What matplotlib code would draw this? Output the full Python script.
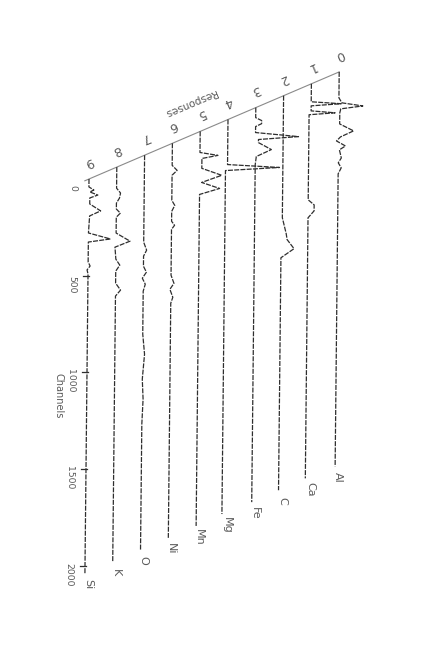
import matplotlib
matplotlib.use("Agg")
import matplotlib.pyplot as plt
import matplotlib.transforms as mtransforms
from matplotlib import font_manager

# ---------------- data (channels along each trace, response values) ----------------
elements = ["Al", "Ca", "C", "Fe", "Mg", "Mn", "Ni", "O", "K", "Si"]
index_labels = ["0", "1", "2", "3", "4", "5", "6", "7", "8", "9"]
channel_ticks = [0, 500, 1000, 1500, 2000]

al_ch = [0, 134, 160, 176, 191, 212, 269, 305, 336, 357, 383, 403, 445, 470, 496, 527, 2040]
al_r = [0, 0, 3, 24, 2, 1, 1, 15, 2, -2, 7, 1, 3, 0, 3, 0, 0]

ca_ch = [0, 93, 103, 114, 140, 150, 160, 600, 626, 657, 693, 2040]
ca_r = [0, 0, 30, 0, 0, 24, -2, -2, 4, 4, -2, -2]

c_ch = [0, 631, 672, 713, 744, 791, 838, 2040]
c_r = [0, 0, 2, 4, 5, 12, -1, -1]

fe_ch = [0, 52, 67, 83, 98, 129, 150, 165, 181, 217, 253, 295, 2040]
fe_r = [0, 0, 6, 6, 0, 0, 43, 3, 3, 16, 1, 0, 0]

mg_ch = [0, 233, 248, 264, 2040]
mg_r = [0, 0, 52, -2, -2]

mn_ch = [0, 109, 124, 140, 191, 227, 264, 295, 326, 2040]
mn_r = [0, 0, 18, 2, 2, 22, 2, 20, 0, 0]

ni_ch = [0, 114, 140, 165, 295, 321, 352, 403, 424, 445, 682, 724, 755, 796, 827, 2040]
ni_r = [0, 0, 5, 0, 0, 3, 0, 0, 3, 0, 0, 3, -1, 2, 0, 0]

o_ch = [0, 450, 491, 522, 574, 605, 636, 667, 703, 925, 1029, 1158, 1261, 1391, 2040]
o_r = [0, 0, 3, 0, 0, 3, -1, 2, 0, 0, 2, 0, 1, 0, 0]

k_ch = [0, 109, 134, 160, 186, 217, 238, 259, 341, 383, 414, 476, 507, 538, 600, 636, 667, 2040]
k_r = [0, 0, 4, 3, 0, 0, 4, 0, 0, 14, -1, 0, 4, 0, 0, 5, 0, 0]

si_ch = [0, 41, 57, 67, 83, 98, 129, 165, 191, 279, 310, 326, 429, 450, 470, 491, 2040]
si_r = [0, 0, 5, 1, 9, 1, 1, 12, 1, 0, 22, 0, 0, 2, -1, 0, 0]

series_ch = [al_ch, ca_ch, c_ch, fe_ch, mg_ch, mn_ch, ni_ch, o_ch, k_ch, si_ch]
series_r = [al_r, ca_r, c_r, fe_r, mg_r, mn_r, ni_r, o_r, k_r, si_r]

# ---------------- layout (oblique waterfall, page rotated) ----------------
X0, Y0 = 89.0, 179.0      # front trace origin (figure px)
DX, DY = 27.8, -11.9      # shift per depth step
S = 0.1934                # px per channel
TILT = -0.002             # slight scan skew

names = {f.name for f in font_manager.fontManager.ttflist}
NARROW = "Liberation Sans Narrow" if "Liberation Sans Narrow" in names else "DejaVu Sans"

fig = plt.figure(figsize=(4.42, 6.48), dpi=100)
ax = fig.add_axes([0, 0, 1, 1])
ax.set_xlim(0, 442)
ax.set_ylim(648, 0)
ax.axis("off")


def series_transform(depth):
    aff = mtransforms.Affine2D.from_values(TILT, S, 1.0, 0.0,
                                           X0 + depth * DX, Y0 + depth * DY)
    return aff + ax.transData


line_color = "#2e2e2e"
text_color = "#5a5a5a"

# depth axis ("Responses")
diag_x = [X0 - 0.15 * DX, X0 + 9 * DX]
diag_y = [Y0 - 0.15 * DY, Y0 + 9 * DY]
ax.plot(diag_x, diag_y, color="#8a8a8a", lw=0.8, zorder=1)

for i, (chs, rs) in enumerate(zip(series_ch, series_r)):
    depth = 9 - i
    tr = series_transform(depth)
    ax.plot(chs, rs, color=line_color, lw=0.9, linestyle=(0, (4, 1)),
            transform=tr, zorder=3)
    ax.text(-90, 0, index_labels[i], transform=tr, rotation=203,
            ha="center", va="center", fontsize=9, family=NARROW,
            color=text_color)
    ax.text(chs[-1] + 57, 3, elements[i], transform=tr, rotation=270,
            ha="center", va="center", fontsize=8, family=NARROW,
            color=text_color)

# channel axis on the front trace
front = series_transform(0)
for t in channel_ticks[1:]:
    ax.plot([t, t], [-5, 1], color=line_color, lw=0.9, transform=front)
for t in channel_ticks:
    ax.text(t + 45, -16, str(t), transform=front, rotation=270,
            ha="center", va="center", fontsize=6.7, family=NARROW,
            color=text_color)
ax.text(1120, -28, "Channels", transform=front, rotation=270,
        ha="center", va="center", fontsize=7, family=NARROW, color=text_color)

ax.text(190, 102, "Responses", rotation=203, ha="center", va="center",
        fontsize=7.5, family=NARROW, color=text_color)

fig.savefig("out.png", dpi=100)
